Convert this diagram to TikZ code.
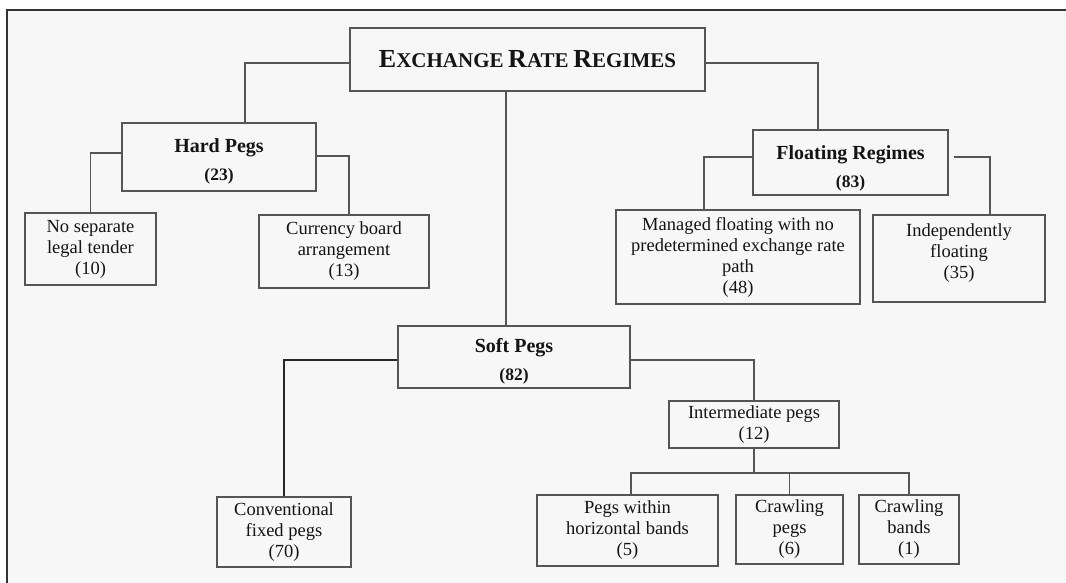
\documentclass[tikz,border=0pt]{standalone}
\usepackage{fontspec}
\setmainfont{Liberation Serif}
\usetikzlibrary{calc}

\definecolor{paper}{HTML}{F7F7F7}
\definecolor{edge}{HTML}{555555}
\definecolor{frameline}{HTML}{333333}
\definecolor{ink}{HTML}{141414}

% stacked lines, moved up or down inside their box without changing its size
\newcommand{\nudge}[2]{\raisebox{#1}[\height][\depth]{\begin{tabular}{@{}c@{}}#2\end{tabular}}}
% large-and-small capitals for the heading
\newcommand{\capL}[1]{{\fontsize{26}{30}\selectfont #1}}
\newcommand{\capS}[1]{{\fontsize{21}{30}\selectfont #1}}

\tikzset{
  box/.style={draw=edge, line width=1.5pt, fill=paper, rectangle, inner sep=0pt,
    align=center, text=ink, font=\fontsize{18.5}{21}\selectfont},
  headbox/.style={box, font=\bfseries\fontsize{17.5}{28}\selectfont},
  link/.style={draw=edge, line width=1.5pt},
  strong link/.style={draw=black!85, line width=2pt},
}

\begin{document}
\begin{tikzpicture}[x=1pt, y=-1pt]
  \useasboundingbox (0,0) rectangle (1066,582);
  % framed panel
  \fill[white] (0,0) rectangle (1066,582);
  \draw[frameline, line width=2pt, fill=paper] (7,10) rectangle (1080,600);

  % top level
  \node[box, minimum width=355pt, minimum height=63pt] (root) at (527.5,59.5)
    {\bfseries\capL{E}\capS{XCHANGE} \capL{R}\capS{ATE} \capL{R}\capS{EGIMES}};

  % hard pegs branch
  \node[headbox, minimum width=194pt, minimum height=68pt] (hard) at (219,157)
    {\nudge{-4pt}{\fontsize{20}{28}\selectfont Hard Pegs\\(23)}};
  \node[box, minimum width=131pt, minimum height=72pt] (nslt) at (90.5,249)
    {No separate\\legal tender\\(10)};
  \node[box, minimum width=170pt, minimum height=73pt] (curr) at (344,251.5)
    {Currency board\\arrangement\\(13)};

  % floating branch
  \node[headbox, minimum width=195pt, minimum height=65pt] (float) at (850.5,162.5)
    {\nudge{-5pt}{\fontsize{20}{28}\selectfont Floating Regimes\\(83)}};
  \node[box, minimum width=244pt, minimum height=94pt] (managed) at (738,257)
    {Managed floating with no\\predetermined exchange rate\\path\\(48)};
  \node[box, minimum width=172pt, minimum height=87pt] (indep) at (959,258.5)
    {\nudge{5pt}{Independently\\floating\\(35)}};

  % soft pegs branch
  \node[headbox, minimum width=232pt, minimum height=62pt] (soft) at (514,357)
    {\nudge{-4pt}{\fontsize{20}{28}\selectfont Soft Pegs\\(82)}};
  \node[box, minimum width=134pt, minimum height=70pt] (conv) at (284,532)
    {Conventional\\fixed pegs\\(70)};
  \node[box, minimum width=170pt, minimum height=47pt] (inter) at (754,424.5)
    {Intermediate pegs\\(12)};
  \node[box, minimum width=181pt, minimum height=71pt] (pwhb) at (627.5,530.5)
    {Pegs within\\horizontal bands\\(5)};
  \node[box, minimum width=107pt, minimum height=69pt] (cpeg) at (789.5,529.5)
    {Crawling\\pegs\\(6)};
  \node[box, minimum width=100pt, minimum height=69pt] (cband) at (909,529.5)
    {Crawling\\bands\\(1)};

  % connectors
  \draw[link] ([yshift=-3.5pt]root.west) -| ([xshift=26pt]hard.north);
  \draw[link] ([xshift=-21.5pt]root.south) -- ([xshift=-21.5pt]root.south |- soft.north);
  \draw[link] ([yshift=-3.5pt]root.east) -| ([xshift=-32.5pt]float.north);

  \draw[link] ([yshift=4pt]hard.west) -| (nslt.north);
  \draw[link] ([yshift=1pt]hard.east) -| ([xshift=5pt]curr.north);

  \draw[link] ([yshift=5.5pt]float.west) -| ([xshift=-34pt]managed.north);
  \draw[link] ([xshift=5pt,yshift=5.5pt]float.east) -| ([xshift=31pt]indep.north);

  \draw[strong link] ([yshift=-3pt]soft.west) -| (conv.north);
  \draw[link] ([yshift=-3pt]soft.east) -| (inter.north);

  \coordinate (bus) at ($(inter.south)+(0,24)$);
  \draw[link] (inter.south) -- (bus);
  \draw[link] ([xshift=3.5pt]pwhb.north) |- (bus) -| (cband.north);
  \draw[link] (cpeg.north) -- (cpeg.north |- bus);
\end{tikzpicture}
\end{document}
